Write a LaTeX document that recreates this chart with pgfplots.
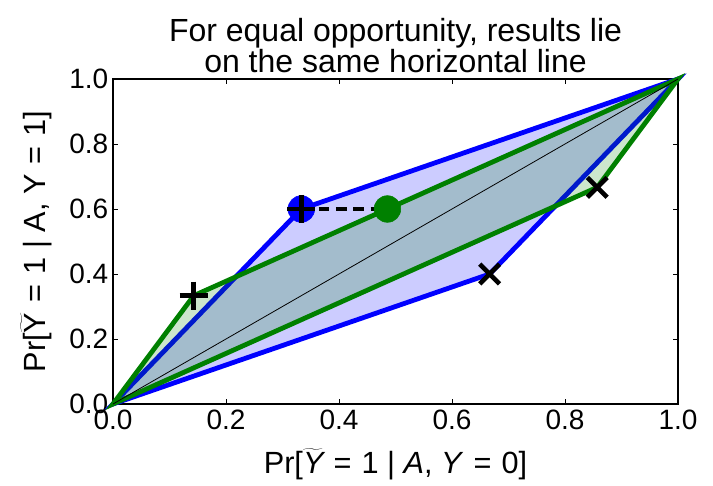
\documentclass[border=0pt]{standalone}
\usepackage{pgfplots}
\pgfplotsset{compat=1.18}
\usepackage{fontspec}
\setmainfont{Liberation Sans}
\newcommand{\eqs}{\hspace{0.33em}=\hspace{0.33em}}
\begin{document}
\begin{tikzpicture}
\begin{axis}[
  scale only axis,
  width=423.75pt, height=243.75pt,
  xmin=0, xmax=1, ymin=0, ymax=1,
  xtick={0,0.2,0.4,0.6,0.8,1.0},
  ytick={0,0.2,0.4,0.6,0.8,1.0},
  /pgf/number format/fixed,
  /pgf/number format/fixed zerofill,
  /pgf/number format/precision=1,
  /pgf/number format/assume math mode=true,
  tick align=inside,
  major tick length=4pt,
  tick style={black, line width=0.6pt},
  axis line style={line width=0.8pt},
  ticklabel style={font=\fontsize{21}{22}\selectfont},
  xticklabel style={yshift=-1pt},
  title style={font=\fontsize{24}{23}\selectfont, align=center, yshift=-5pt},
  title={For equal opportunity, results lie\\on the same horizontal line},
  xlabel={Pr[\ensuremath{\widetilde{\mbox{\itshape Y}}}\eqs1 | \itshape A\/\upshape, \itshape Y\/\upshape\eqs0]},
  ylabel={Pr[\ensuremath{\widetilde{\mbox{Y}}}\eqs1 | A, Y\eqs1]},
  label style={font=\fontsize{23}{25}\selectfont},
  xlabel style={yshift=-7pt},
  ylabel style={yshift=6pt},
  clip=false,
]
\addplot[draw=blue, line width=3.6pt, fill=blue, fill opacity=0.2, draw opacity=1, line join=miter]
  coordinates {(0,0) (0.3333,0.6) (1,1) (0.6667,0.4)} -- cycle;
\addplot[draw={rgb,255:red,0;green,128;blue,0}, line width=3.6pt, fill={rgb,255:red,0;green,128;blue,0}, fill opacity=0.2, draw opacity=1, line join=miter]
  coordinates {(0,0) (0.1429,0.3333) (1,1) (0.8571,0.6667)} -- cycle;
\addplot[black, line width=0.6pt] coordinates {(0,0) (1,1)};
\addplot[black, line width=3.5pt, dash pattern=on 8pt off 5pt] coordinates {(0.3333,0.6) (0.4857,0.6)};
\addplot[only marks, mark=*, mark size=10pt, mark options={fill=blue, draw=blue}] coordinates {(0.3333,0.6)};
\addplot[only marks, mark=*, mark size=10pt, mark options={fill={rgb,255:red,0;green,128;blue,0}, draw={rgb,255:red,0;green,128;blue,0}}] coordinates {(0.4857,0.6)};
\addplot[only marks, mark=+, mark size=10.5pt, mark options={black, line width=3.5pt}] coordinates {(0.1429,0.3333) (0.3333,0.6)};
\addplot[only marks, mark=x, mark size=10.5pt, mark options={black, line width=3.5pt}] coordinates {(0.6667,0.4) (0.8571,0.6667)};
\end{axis}
\pgfresetboundingbox
\path (-84.75pt,-60.75pt) rectangle (450pt,303pt);
\end{tikzpicture}
\end{document}
